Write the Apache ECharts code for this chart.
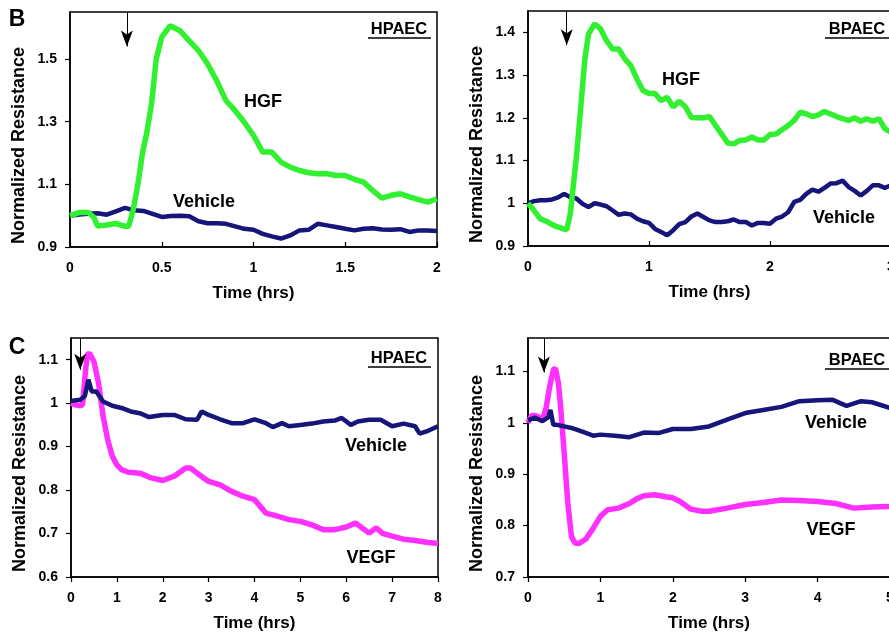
<!DOCTYPE html>
<html>
<head>
<meta charset="utf-8">
<script src="https://cdn.jsdelivr.net/npm/echarts@6/dist/echarts.min.js"></script>
<style>
  html, body { margin: 0; padding: 0; background: #fff; }
  #main { width: 889px; height: 638px; }
</style>
</head>
<body>
<div id="main"></div>
<script>
// B, HPAEC (0-2 hrs)
var hgfHpT = [0,0.05,0.1,0.13,0.15,0.2,0.25,0.3,0.32,0.345,0.37,0.395,0.42,0.445,0.47,0.5,0.545,0.6,0.65,0.7,0.75,0.8,0.85,0.9,0.95,1.0,1.05,1.1,1.15,1.2,1.25,1.3,1.35,1.4,1.45,1.5,1.55,1.6,1.65,1.7,1.75,1.8,1.85,1.9,1.95,2.0];
var hgfHpV = [1.0,1.01,1.01,0.995,0.967,0.97,0.975,0.966,0.966,1.02,1.1,1.2,1.27,1.36,1.5,1.57,1.606,1.59,1.558,1.527,1.484,1.43,1.367,1.335,1.298,1.256,1.203,1.203,1.171,1.155,1.144,1.137,1.134,1.134,1.128,1.128,1.116,1.107,1.08,1.056,1.065,1.07,1.06,1.051,1.043,1.054];
var vehHpT = [0,0.05,0.1,0.15,0.2,0.25,0.3,0.35,0.4,0.45,0.5,0.55,0.6,0.65,0.7,0.75,0.8,0.85,0.9,0.95,1.0,1.05,1.1,1.15,1.2,1.25,1.3,1.35,1.4,1.45,1.5,1.55,1.6,1.65,1.7,1.75,1.8,1.85,1.9,1.95,2.0];
var vehHpV = [1.0,1.004,1.006,1.008,1.003,1.014,1.025,1.017,1.015,1.006,0.996,0.999,1.0,0.998,0.982,0.976,0.976,0.974,0.966,0.958,0.955,0.942,0.934,0.927,0.937,0.953,0.955,0.974,0.969,0.964,0.958,0.953,0.958,0.96,0.956,0.955,0.957,0.948,0.953,0.953,0.951];

// B, BPAEC (0-3 hrs)
var hgfBpT = [0,0.05,0.1,0.15,0.2,0.25,0.32,0.35,0.4,0.43,0.47,0.5,0.55,0.6,0.65,0.7,0.75,0.8,0.85,0.9,0.95,1.0,1.05,1.1,1.15,1.2,1.25,1.3,1.35,1.4,1.45,1.5,1.55,1.6,1.65,1.7,1.75,1.8,1.85,1.9,1.95,2.0,2.05,2.1,2.15,2.2,2.25,2.3,2.35,2.4,2.45,2.5,2.55,2.6,2.65,2.7,2.75,2.8,2.85,2.9,2.95,3.0];
var hgfBpV = [1.0,0.983,0.964,0.958,0.95,0.944,0.938,0.976,1.108,1.205,1.338,1.396,1.42,1.408,1.38,1.361,1.361,1.338,1.322,1.291,1.264,1.257,1.257,1.24,1.248,1.225,1.239,1.226,1.201,1.2,1.2,1.203,1.182,1.162,1.141,1.139,1.147,1.148,1.155,1.148,1.148,1.161,1.162,1.172,1.182,1.194,1.213,1.209,1.203,1.207,1.215,1.209,1.203,1.198,1.194,1.2,1.192,1.198,1.192,1.198,1.174,1.166];
var vehBpT = [0,0.05,0.1,0.15,0.2,0.25,0.3,0.35,0.4,0.45,0.5,0.55,0.6,0.65,0.7,0.75,0.8,0.85,0.9,0.95,1.0,1.05,1.1,1.15,1.2,1.25,1.3,1.35,1.4,1.45,1.5,1.55,1.6,1.65,1.7,1.75,1.8,1.85,1.9,1.95,2.0,2.05,2.1,2.15,2.2,2.25,2.3,2.35,2.4,2.45,2.5,2.55,2.6,2.65,2.7,2.75,2.8,2.85,2.9,2.95,3.0];
var vehBpV = [1.0,1.005,1.007,1.007,1.009,1.014,1.022,1.014,1.011,0.999,0.991,1.0,0.997,0.993,0.983,0.973,0.976,0.974,0.964,0.958,0.954,0.94,0.933,0.925,0.937,0.951,0.956,0.969,0.976,0.968,0.96,0.956,0.956,0.958,0.962,0.956,0.956,0.948,0.954,0.954,0.952,0.964,0.969,0.979,1.003,1.008,1.022,1.032,1.027,1.036,1.046,1.047,1.053,1.038,1.029,1.018,1.029,1.042,1.042,1.036,1.042];

// C, HPAEC (0-8 hrs)
var vegfHpT = [0,0.1,0.2,0.25,0.3,0.35,0.4,0.5,0.6,0.7,0.8,0.9,1.0,1.1,1.25,1.5,1.75,2.0,2.25,2.5,2.6,2.75,3.0,3.25,3.5,3.75,4.0,4.25,4.5,4.75,5.0,5.25,5.5,5.75,6.0,6.2,6.4,6.5,6.65,6.8,7.0,7.25,7.5,7.75,8.0];
var vegfHpV = [1.0,0.996,0.994,0.996,1.054,1.111,1.115,1.096,1.046,0.97,0.916,0.878,0.858,0.847,0.841,0.839,0.828,0.822,0.832,0.851,0.851,0.839,0.82,0.812,0.797,0.786,0.778,0.747,0.74,0.732,0.728,0.72,0.709,0.709,0.715,0.724,0.709,0.701,0.713,0.7,0.694,0.687,0.684,0.68,0.677];
var veh8HpT = [0,0.2,0.3,0.38,0.45,0.55,0.7,0.9,1.1,1.3,1.5,1.7,2.0,2.25,2.5,2.75,2.85,3.0,3.25,3.5,3.75,4.0,4.25,4.4,4.6,4.75,5.0,5.25,5.5,5.75,5.9,6.1,6.25,6.5,6.75,7.0,7.25,7.5,7.6,7.75,8.0];
var veh8HpV = [1.005,1.008,1.016,1.054,1.027,1.027,1.004,0.994,0.989,0.981,0.977,0.968,0.973,0.973,0.963,0.962,0.981,0.973,0.963,0.954,0.954,0.963,0.954,0.945,0.954,0.947,0.95,0.953,0.958,0.96,0.966,0.95,0.958,0.962,0.962,0.947,0.953,0.947,0.93,0.935,0.947];

// C, BPAEC (0-5 hrs)
var vegfBpT = [0,0.05,0.1,0.15,0.2,0.25,0.3,0.35,0.38,0.42,0.45,0.5,0.55,0.6,0.65,0.7,0.8,0.9,1.0,1.1,1.25,1.4,1.5,1.6,1.75,1.9,2.0,2.1,2.25,2.4,2.5,2.75,3.0,3.25,3.5,3.75,4.0,4.25,4.5,4.75,5.0];
var vegfBpV = [1.0,1.014,1.014,1.011,1.006,1.029,1.071,1.103,1.106,1.077,1.032,0.941,0.844,0.779,0.766,0.765,0.774,0.795,0.818,0.831,0.834,0.843,0.852,0.858,0.86,0.856,0.854,0.847,0.832,0.828,0.828,0.834,0.841,0.845,0.85,0.849,0.847,0.843,0.834,0.836,0.837];
var veh5BpT = [0,0.1,0.2,0.28,0.31,0.35,0.4,0.5,0.6,0.75,0.9,1.0,1.2,1.4,1.6,1.8,2.0,2.25,2.5,2.75,3.0,3.25,3.5,3.75,4.0,4.2,4.4,4.6,4.75,5.0];
var veh5BpV = [1.005,1.01,1.003,1.011,1.025,0.996,0.996,0.993,0.99,0.983,0.975,0.977,0.975,0.972,0.981,0.98,0.988,0.988,0.993,1.006,1.019,1.025,1.031,1.042,1.044,1.045,1.033,1.042,1.04,1.029];

// treatment arrows: time, top value, tip value
var arrowB1 = [0.31, 1.65, 1.54];
var arrowB2 = [0.32, 1.45, 1.37];
var arrowC1 = [0.2, 1.15, 1.077];
var arrowC2 = [0.22, 1.165, 1.098];

var FONT = '"Liberation Sans", Arial, sans-serif';
var GREEN = '#30f030', NAVY = '#15157a', MAGENTA = '#ff30ff';

function pairs(t, v) {
    var out = [];
    for (var i = 0; i < t.length; i++) out.push([t[i], v[i]]);
    return out;
}

function xAx(idx, max, interval, inside) {
    return {
        gridIndex: idx, type: 'value', min: 0, max: max, interval: interval,
        name: 'Time (hrs)', nameLocation: 'middle', nameGap: 38,
        nameTextStyle: { fontFamily: FONT, fontWeight: 'bold', fontSize: 17, color: '#000' },
        axisLine: { show: true, lineStyle: { color: '#000', width: 1.5 } },
        axisTick: { show: true, inside: inside, length: 5, lineStyle: { color: '#000', width: 1.2 } },
        axisLabel: { margin: 14, fontFamily: FONT, fontWeight: 'bold', fontSize: 14, color: '#000' },
        splitLine: { show: false }
    };
}

function yAx(idx, min, max, interval) {
    return {
        gridIndex: idx, type: 'value', min: min, max: max, interval: interval,
        name: 'Normalized Resistance', nameLocation: 'middle', nameGap: 42,
        // name sits a little below the plot's middle in the original
        nameTextStyle: { fontFamily: FONT, fontWeight: 'bold', fontSize: 18, color: '#000', padding: [0, 32, 0, 0] },
        axisLine: { show: true, lineStyle: { color: '#000', width: 1.5 } },
        axisTick: { show: true, length: 5, lineStyle: { color: '#000', width: 1.2 } },
        axisLabel: { margin: 13, showMaxLabel: false, fontFamily: FONT, fontWeight: 'bold', fontSize: 14, color: '#000' },
        splitLine: { show: false }
    };
}

function line(name, idx, data, color, width, arrow) {
    var s = {
        name: name, type: 'line', xAxisIndex: idx, yAxisIndex: idx,
        data: data, showSymbol: false, smooth: false, animation: false,
        lineStyle: { color: color, width: width }, itemStyle: { color: color }
    };
    if (arrow) {
        s.markLine = {
            silent: true, symbol: ['none', 'arrow'], symbolSize: [9, 16],
            label: { show: false },
            lineStyle: { color: '#000', width: 1, type: 'solid' },
            data: [[{ coord: [arrow[0], arrow[1]] }, { coord: [arrow[0], arrow[2]] }]]
        };
    }
    return s;
}

function txt(text, x, y, size) {
    return {
        type: 'text', x: x, y: y, silent: true,
        style: { text: text, fill: '#000', font: 'bold ' + size + 'px ' + FONT, align: 'center', verticalAlign: 'middle' }
    };
}

function uline(x1, x2, y) {
    return { type: 'line', silent: true, shape: { x1: x1, y1: y, x2: x2, y2: y }, style: { stroke: '#000', lineWidth: 1.5 } };
}

var grids = [
    { left: 70, top: 12, width: 367, height: 235 },
    { left: 528, top: 11, width: 363, height: 235 },
    { left: 71, top: 338, width: 367, height: 239 },
    { left: 528, top: 338, width: 362, height: 239 }
];
grids.forEach(function (g) {
    g.show = true; g.borderColor = '#000'; g.borderWidth = 1.5;
    g.backgroundColor = 'transparent'; g.containLabel = false; g.outerBoundsMode = 'none';
});

var option = {
    backgroundColor: '#fff',
    animation: false,
    grid: grids,
    xAxis: [xAx(0, 2, 0.5, true), xAx(1, 3, 1, true), xAx(2, 8, 1, false), xAx(3, 5, 1, false)],
    yAxis: [yAx(0, 0.9, 1.65, 0.2), yAx(1, 0.9, 1.45, 0.1), yAx(2, 0.6, 1.15, 0.1), yAx(3, 0.7, 1.165, 0.1)],
    series: [
        line('Vehicle', 0, pairs(vehHpT, vehHpV), NAVY, 4.5, arrowB1),
        line('HGF', 0, pairs(hgfHpT, hgfHpV), GREEN, 5.5),
        line('Vehicle', 1, pairs(vehBpT, vehBpV), NAVY, 4.5, arrowB2),
        line('HGF', 1, pairs(hgfBpT, hgfBpV), GREEN, 5.5),
        line('VEGF', 2, pairs(vegfHpT, vegfHpV), MAGENTA, 5.5, arrowC1),
        line('Vehicle', 2, pairs(veh8HpT, veh8HpV), NAVY, 4.5),
        line('VEGF', 3, pairs(vegfBpT, vegfBpV), MAGENTA, 5.5, arrowC2),
        line('Vehicle', 3, pairs(veh5BpT, veh5BpV), NAVY, 4.5)
    ],
    graphic: [
        txt('B', 17, 20, 23),
        txt('C', 17, 348, 23),
        txt('HPAEC', 399, 29, 16.5), uline(368, 431, 38),
        txt('BPAEC', 857, 29, 16.5), uline(825, 889, 38),
        txt('HPAEC', 399, 358, 16.5), uline(368, 431, 367),
        txt('BPAEC', 857, 360, 16.5), uline(825, 889, 369),
        txt('HGF', 263, 102, 18),
        txt('Vehicle', 204, 202, 18),
        txt('HGF', 681, 80, 18),
        txt('Vehicle', 844, 218, 18),
        txt('Vehicle', 376, 446, 18),
        txt('VEGF', 371, 558, 18),
        txt('Vehicle', 836, 423, 18),
        txt('VEGF', 831, 530, 18)
    ]
};

var chart = echarts.init(document.getElementById('main'));
chart.setOption(option);
</script>
</body>
</html>
